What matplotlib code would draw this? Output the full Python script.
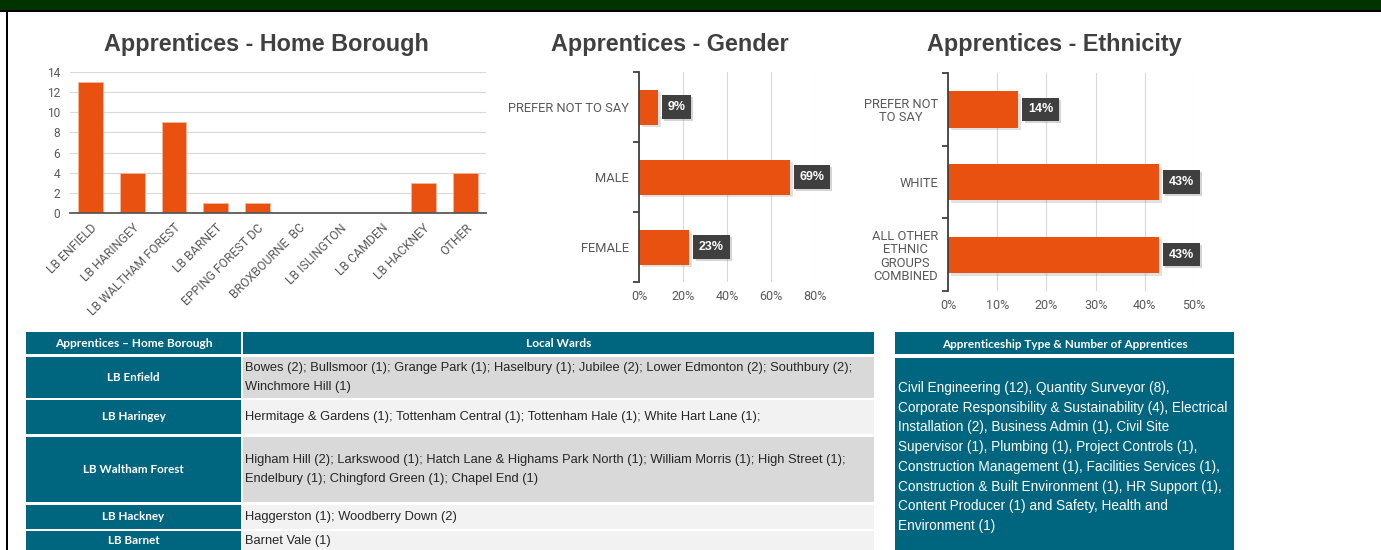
import matplotlib.pyplot as plt
import matplotlib.patheffects as pe
from matplotlib.patches import Rectangle

W, H = 1381, 550

# chart data
boroughs = ["LB ENFIELD", "LB HARINGEY", "LB WALTHAM FOREST", "LB BARNET", "EPPING FOREST DC",
            "BROXBOURNE  BC", "LB ISLINGTON", "LB CAMDEN", "LB HACKNEY", "OTHER"]
borough_counts = [13, 4, 9, 1, 1, 0, 0, 0, 3, 4]

gender_labels = ["PREFER NOT TO SAY", "MALE", "FEMALE"]
gender_pct = [8.6, 68.6, 22.9]

ethnicity_labels = ["PREFER NOT\nTO SAY", "WHITE", "ALL OTHER\nETHNIC\nGROUPS\nCOMBINED"]
ethnicity_pct = [14.3, 42.9, 42.9]

# table data
table_header = ["Apprentices \u2013 Home Borough", "Local Wards"]
table_boroughs = ["LB Enfield", "LB Haringey", "LB Waltham Forest", "LB Hackney", "LB Barnet"]
table_wards = [
    "Bowes (2); Bullsmoor (1); Grange Park (1); Haselbury (1); Jubilee (2); Lower Edmonton (2); Southbury (2);\nWinchmore Hill (1)",
    "Hermitage & Gardens (1); Tottenham Central (1); Tottenham Hale (1); White Hart Lane (1);",
    "Higham Hill (2); Larkswood (1); Hatch Lane & Highams Park North (1); William Morris (1); High Street (1);\nEndelbury (1); Chingford Green (1); Chapel End (1)",
    "Haggerston (1); Woodberry Down (2)",
    "Barnet Vale (1)",
]
types_header = "Apprenticeship Type & Number of Apprentices"
types_text = ("Civil Engineering (12), Quantity Surveyor (8),\n"
              "Corporate Responsibility & Sustainability (4), Electrical\n"
              "Installation (2), Business Admin (1), Civil Site\n"
              "Supervisor (1), Plumbing (1), Project Controls (1),\n"
              "Construction Management (1), Facilities Services (1),\n"
              "Construction & Built Environment (1), HR Support (1),\n"
              "Content Producer (1) and Safety, Health and\n"
              "Environment (1)")

ORANGE = "#E8510F"
TEAL = "#00657F"
GRID = "#D9D9D9"
TICK = "#595959"
TITLE = "#404040"
TICK_FONT = ['Roboto', 'DejaVu Sans']
CELL_FONT = ['Lato', 'DejaVu Sans']

plt.rcParams['font.family'] = ['Liberation Sans', 'DejaVu Sans']


def px_box(x0, y0, x1, y1):
    return [x0 / W, 1 - y1 / H, (x1 - x0) / W, (y1 - y0) / H]


fig = plt.figure(figsize=(W / 100, H / 100), dpi=100, facecolor='white')

# page layer for frame and tables (pixel coordinates)
page = fig.add_axes([0, 0, 1, 1], zorder=0)
page.set_xlim(0, W)
page.set_ylim(H, 0)
page.axis('off')
page.add_patch(Rectangle((0, 0), W, 9.5, fc='#013301', ec='none'))
page.add_patch(Rectangle((0, 9.5), W, 2, fc='black', ec='none'))
page.add_patch(Rectangle((6, 9.5), 2.2, H, fc='black', ec='none'))

# titles
for x, y, title in [(266, 44, "Apprentices - Home Borough"),
                    (670, 44, "Apprentices - Gender"),
                    (1054, 45, "Apprentices - Ethnicity")]:
    page.text(x, y, title, ha='center', va='center', fontsize=16.8, fontweight='bold', color=TITLE)

# --- home borough column chart ---
ax1 = fig.add_axes(px_box(70, 72, 486, 213))
ax1.bar(range(len(boroughs)), borough_counts, width=0.6, color=ORANGE, edgecolor='#F7B79A',
        linewidth=0.6, zorder=3)
ax1.set_xlim(-0.5, len(boroughs) - 0.5)
ax1.set_ylim(0, 14)
ax1.set_yticks(range(0, 15, 2))
ax1.grid(axis='y', color=GRID, linewidth=0.8, zorder=0)
ax1.set_xticks(range(len(boroughs)))
ax1.set_xticklabels(boroughs, rotation=45, ha='right', rotation_mode='anchor', family=TICK_FONT)
for lab in ax1.get_yticklabels():
    lab.set_family(TICK_FONT)
ax1.tick_params(axis='y', length=0, pad=7, labelsize=8.6, labelcolor=TICK)
ax1.tick_params(axis='x', length=0, pad=6, labelsize=8.8, labelcolor=TICK)
for s in ['top', 'right', 'left']:
    ax1.spines[s].set_visible(False)
ax1.spines['bottom'].set_color('#595959')
ax1.spines['bottom'].set_linewidth(1.3)
ax1.spines['bottom'].set_zorder(4)


def hbar_chart(box, labels, values, xmax, pad):
    ax = fig.add_axes(box)
    n = len(labels)
    bars = ax.barh(range(n), values, height=0.5, color=ORANGE, zorder=3)
    for b in bars:
        b.set_path_effects([pe.SimplePatchShadow(offset=(2, -2), shadow_rgbFace='#888888', alpha=0.25),
                            pe.Normal()])
    ax.set_ylim(n - 0.5, -0.5)
    ax.set_xlim(0, xmax)
    ax.set_xticks(range(0, xmax + 1, 10 if xmax <= 50 else 20))
    ax.set_xticklabels([f"{t}%" for t in ax.get_xticks().astype(int)], family=TICK_FONT)
    ax.grid(axis='x', color=GRID, linewidth=0.8, zorder=0)
    ax.set_yticks(range(n))
    ax.set_yticklabels(labels, multialignment='center', family=TICK_FONT, linespacing=1.05)
    ax.set_yticks([i - 0.5 for i in range(n + 1)], minor=True)
    ax.tick_params(axis='y', which='major', length=0, pad=pad, labelsize=9.3, labelcolor=TICK)
    ax.tick_params(axis='y', which='minor', length=4, width=1.3, color='#404040', direction='out')
    ax.tick_params(axis='x', length=0, pad=6, labelsize=9, labelcolor=TICK)
    for s in ['top', 'right', 'bottom']:
        ax.spines[s].set_visible(False)
    ax.spines['left'].set_color('#404040')
    ax.spines['left'].set_linewidth(1.3)
    ax.spines['left'].set_zorder(4)
    for i, v in enumerate(values):
        t = ax.annotate(f"{v:.0f}%", xy=(v, i), xytext=(7, 0), textcoords='offset points',
                        ha='left', va='center', color='white', fontsize=9, fontweight='bold',
                        bbox=dict(boxstyle='square,pad=0.45', fc='#3F3F3F', ec='none'),
                        annotation_clip=False, zorder=5)
        t.get_bbox_patch().set_path_effects([
            pe.SimplePatchShadow(offset=(1.5, -1.5), shadow_rgbFace='#888888', alpha=0.35),
            pe.Normal()])
    return ax


hbar_chart(px_box(639, 72, 815, 282), gender_labels, gender_pct, 80, 7)
hbar_chart(px_box(948, 73, 1194, 291), ethnicity_labels, ethnicity_pct, 50, 7)

# --- wards table ---
col_x = [(26, 241), (243, 874)]
for (x0, x1), label in zip(col_x, table_header):
    page.add_patch(Rectangle((x0, 332), x1 - x0, 22, fc=TEAL, ec='none'))
    page.text((x0 + x1) / 2, 343.5, label, ha='center', va='center', fontsize=8.6,
              fontweight='bold', color='white', family=CELL_FONT)

row_y = [(357, 398), (400, 434), (437, 502), (505, 529), (531, 560)]
row_bg = ['#D9D9D9', '#F2F2F2', '#D9D9D9', '#F2F2F2', '#F2F2F2']
for (y0, y1), name, wards, bg in zip(row_y, table_boroughs, table_wards, row_bg):
    page.add_patch(Rectangle((col_x[0][0], y0), col_x[0][1] - col_x[0][0], y1 - y0, fc=TEAL, ec='none'))
    page.add_patch(Rectangle((col_x[1][0], y0), col_x[1][1] - col_x[1][0], y1 - y0, fc=bg, ec='none'))
    yc = min((y0 + y1) / 2, 541)
    page.text((col_x[0][0] + col_x[0][1]) / 2, yc, name, ha='center', va='center', fontsize=8.4,
              fontweight='bold', color='white', family=CELL_FONT)
    page.text(col_x[1][0] + 2, yc, wards, ha='left', va='center', fontsize=9.3,
              color='#262626', linespacing=1.75)

# --- apprenticeship type box ---
page.add_patch(Rectangle((895, 332), 339, 22, fc=TEAL, ec='none'))
page.text(1064.5, 344, types_header, ha='center', va='center', fontsize=8.5, fontweight='bold',
          color='white', family=CELL_FONT)
page.add_patch(Rectangle((895, 358), 339, 200, fc=TEAL, ec='none'))
page.text(898, 381, types_text, ha='left', va='top', fontsize=9.8, color='white', linespacing=1.52)

fig.savefig("out.png", dpi=100, facecolor='white')
